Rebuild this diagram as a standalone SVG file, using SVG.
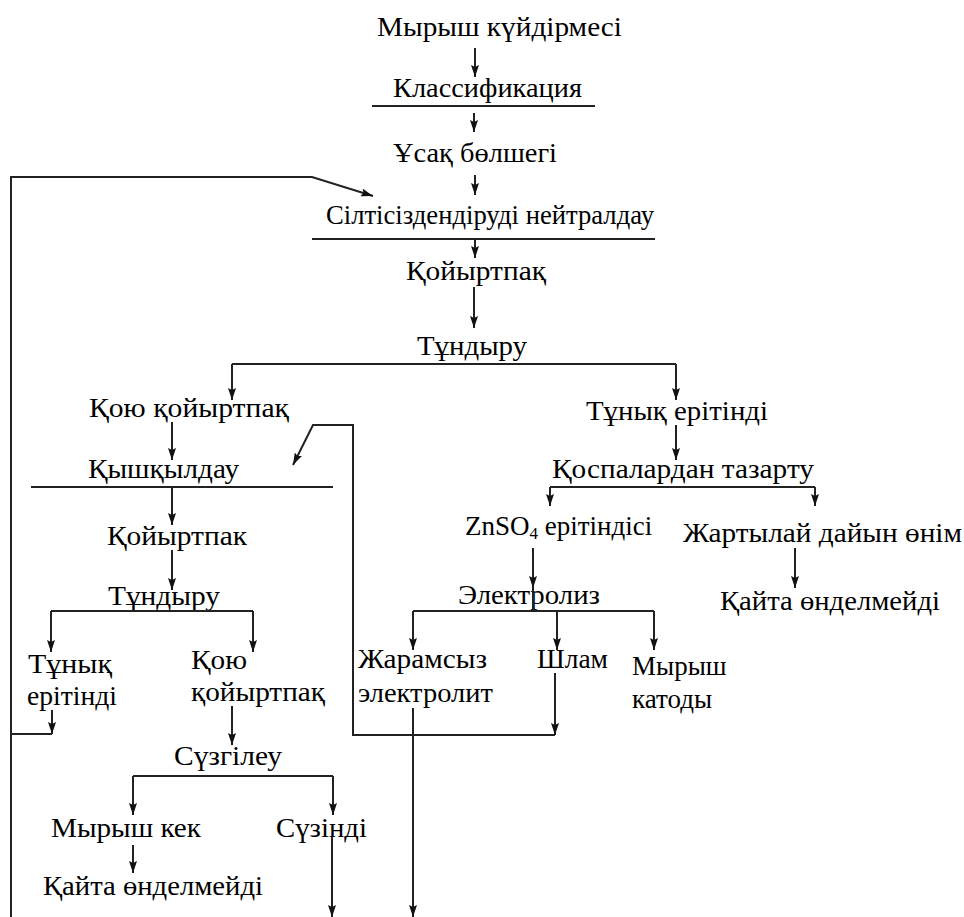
<svg xmlns="http://www.w3.org/2000/svg" width="964" height="917" viewBox="0 0 964 917">
<style>
.ln{stroke:#222;stroke-width:2;fill:none}
.ar{stroke:#222;stroke-width:2;fill:none;marker-end:url(#ah)}
</style>
<defs>
<marker id="ah" markerUnits="userSpaceOnUse" markerWidth="12" markerHeight="8" viewBox="0 0 12 8" refX="12" refY="4" orient="auto">
<path d="M0,0 L12,4 L0,8 L2,4 z" fill="#111"/>
</marker>
</defs>
<rect width="964" height="917" fill="#fff"/>
<g id="nodes">
<g id="n1"><text font-family="Liberation Serif" font-size="27" x="377" y="36" textLength="245" lengthAdjust="spacingAndGlyphs">Мырыш күйдірмесі</text></g>
<g id="n2"><text font-family="Liberation Serif" font-size="27" x="393" y="97" textLength="189" lengthAdjust="spacingAndGlyphs">Классификация</text><line class="ln" x1="372" y1="106" x2="595" y2="106"/></g>
<g id="n3"><text font-family="Liberation Serif" font-size="27" x="393" y="162" textLength="164" lengthAdjust="spacingAndGlyphs">Ұсақ бөлшегі</text></g>
<g id="n4"><text font-family="Liberation Serif" font-size="27" x="326" y="224" textLength="328" lengthAdjust="spacingAndGlyphs">Сілтісіздендіруді нейтралдау</text><line class="ln" x1="312" y1="239" x2="655" y2="239"/></g>
<g id="n5"><text font-family="Liberation Serif" font-size="27" x="406" y="280" textLength="140" lengthAdjust="spacingAndGlyphs">Қойыртпақ</text></g>
<g id="n6"><text font-family="Liberation Serif" font-size="27" x="417" y="355" textLength="110" lengthAdjust="spacingAndGlyphs">Тұндыру</text></g>
<g id="n7"><text font-family="Liberation Serif" font-size="27" x="89" y="417" textLength="200" lengthAdjust="spacingAndGlyphs">Қою қойыртпақ</text></g>
<g id="n8"><text font-family="Liberation Serif" font-size="27" x="586" y="420" textLength="182" lengthAdjust="spacingAndGlyphs">Тұнық ерітінді</text></g>
<g id="n9"><text font-family="Liberation Serif" font-size="27" x="88" y="478" textLength="151" lengthAdjust="spacingAndGlyphs">Қышқылдау</text><line class="ln" x1="31" y1="487" x2="333" y2="487"/></g>
<g id="n10"><text font-family="Liberation Serif" font-size="27" x="552" y="478" textLength="262" lengthAdjust="spacingAndGlyphs">Қоспалардан тазарту</text></g>
<g id="n11"><text font-family="Liberation Serif" font-size="27" x="465" y="535">ZnSO<tspan font-size="17" dy="4">4</tspan><tspan dy="-4"> ерітіндісі</tspan></text></g>
<g id="n12"><text font-family="Liberation Serif" font-size="27" x="683" y="542" textLength="279" lengthAdjust="spacingAndGlyphs">Жартылай дайын өнім</text></g>
<g id="n13"><text font-family="Liberation Serif" font-size="27" x="458" y="604" textLength="142" lengthAdjust="spacingAndGlyphs">Электролиз</text></g>
<g id="n14"><text font-family="Liberation Serif" font-size="27" x="720" y="610" textLength="220" lengthAdjust="spacingAndGlyphs">Қайта өнделмейді</text></g>
<g id="n15"><text font-family="Liberation Serif" font-size="27" x="107" y="545" textLength="140" lengthAdjust="spacingAndGlyphs">Қойыртпак</text></g>
<g id="n16"><text font-family="Liberation Serif" font-size="27" x="108" y="605" textLength="112" lengthAdjust="spacingAndGlyphs">Тұндыру</text></g>
<g id="n17"><text font-family="Liberation Serif" font-size="27" x="28" y="673" textLength="84" lengthAdjust="spacingAndGlyphs">Тұнық</text><text font-family="Liberation Serif" font-size="27" x="27" y="705" textLength="90" lengthAdjust="spacingAndGlyphs">ерітінді</text></g>
<g id="n18"><text font-family="Liberation Serif" font-size="27" x="191" y="669" textLength="56" lengthAdjust="spacingAndGlyphs">Қою</text><text font-family="Liberation Serif" font-size="27" x="191" y="701" textLength="134" lengthAdjust="spacingAndGlyphs">қойыртпақ</text></g>
<g id="n19"><text font-family="Liberation Serif" font-size="27" x="174" y="765" textLength="108" lengthAdjust="spacingAndGlyphs">Сүзгілеу</text></g>
<g id="n20"><text font-family="Liberation Serif" font-size="27" x="51" y="837" textLength="150" lengthAdjust="spacingAndGlyphs">Мырыш кек</text></g>
<g id="n21"><text font-family="Liberation Serif" font-size="27" x="276" y="837" textLength="91" lengthAdjust="spacingAndGlyphs">Сүзінді</text></g>
<g id="n22"><text font-family="Liberation Serif" font-size="27" x="43" y="895" textLength="220" lengthAdjust="spacingAndGlyphs">Қайта өнделмейді</text></g>
<g id="n23"><text font-family="Liberation Serif" font-size="27" x="358" y="668" textLength="129" lengthAdjust="spacingAndGlyphs">Жарамсыз</text><text font-family="Liberation Serif" font-size="27" x="358" y="702" textLength="135" lengthAdjust="spacingAndGlyphs">электролит</text></g>
<g id="n24"><text font-family="Liberation Serif" font-size="27" x="537" y="668" textLength="71" lengthAdjust="spacingAndGlyphs">Шлам</text></g>
<g id="n25"><text font-family="Liberation Serif" font-size="27" x="632" y="675">Мырыш</text><text font-family="Liberation Serif" font-size="27" x="632" y="708">катоды</text></g>
</g>
<g id="connectors">
<line class="ar" x1="475" y1="48" x2="475" y2="77"/>
<line class="ar" x1="474" y1="113" x2="474" y2="132"/>
<line class="ar" x1="475" y1="175" x2="475" y2="195"/>
<line class="ar" x1="475" y1="240" x2="475" y2="258"/>
<line class="ar" x1="474" y1="287" x2="474" y2="328"/>
<line class="ln" x1="232" y1="364" x2="676" y2="364"/>
<line class="ar" x1="232" y1="364" x2="232" y2="400"/>
<line class="ar" x1="676" y1="364" x2="676" y2="400"/>
<line class="ar" x1="676" y1="425" x2="676" y2="460"/>
<line class="ln" x1="550" y1="487" x2="815" y2="487"/>
<line class="ar" x1="550" y1="487" x2="550" y2="506"/>
<line class="ar" x1="815" y1="487" x2="815" y2="506"/>
<line class="ar" x1="172" y1="422" x2="172" y2="460"/>
<line class="ar" x1="172" y1="487" x2="172" y2="525"/>
<line class="ar" x1="172" y1="550" x2="172" y2="590"/>
<line class="ln" x1="51" y1="611" x2="253" y2="611"/>
<line class="ar" x1="51" y1="611" x2="51" y2="652"/>
<line class="ar" x1="253" y1="611" x2="253" y2="652"/>
<line class="ar" x1="52" y1="710" x2="52" y2="734"/>
<line class="ln" x1="11" y1="734" x2="52" y2="734"/>
<polyline class="ar" points="11,917 11,177 312,177 373,196"/>
<line class="ar" x1="232" y1="706" x2="232" y2="745"/>
<line class="ln" x1="133" y1="776" x2="333" y2="776"/>
<line class="ar" x1="133" y1="776" x2="133" y2="815"/>
<line class="ar" x1="333" y1="776" x2="333" y2="815"/>
<line class="ar" x1="133" y1="845" x2="133" y2="873"/>
<line class="ar" x1="332" y1="837" x2="332" y2="917"/>
<line class="ar" x1="533" y1="548" x2="533" y2="588"/>
<line class="ln" x1="533" y1="588" x2="533" y2="611"/>
<line class="ar" x1="795" y1="548" x2="795" y2="588"/>
<line class="ln" x1="413" y1="611" x2="654" y2="611"/>
<line class="ar" x1="413" y1="611" x2="413" y2="650"/>
<line class="ar" x1="557" y1="611" x2="557" y2="650"/>
<line class="ar" x1="654" y1="611" x2="654" y2="650"/>
<line class="ar" x1="555" y1="673" x2="555" y2="735"/>
<polyline class="ar" points="555,735 353,735 353,425 313,425 293,465"/>
<line class="ar" x1="413" y1="708" x2="413" y2="917"/>
</g>
</svg>
